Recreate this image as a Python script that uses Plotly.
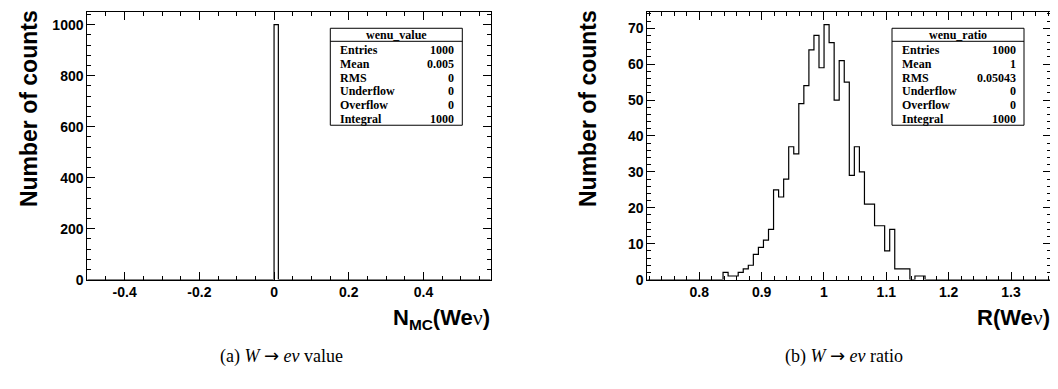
import plotly.graph_objects as go

W, H = 1058, 389

# ---------------- data ----------------
# (a) W -> e nu value : one filled bin
value_edges = [-0.5, 0.0, 0.0115, 0.58]
value_counts = [0, 1000, 0]
value_stats = [("Entries", "1000"), ("Mean", "0.005"), ("RMS", "0"),
               ("Underflow", "0"), ("Overflow", "0"), ("Integral", "1000")]

# (b) W -> e nu ratio : 80 bins
ratio_lo = 0.7166
ratio_width = 0.0081
ratio_counts = [0] * 15 + [
    2, 1, 1, 2, 3, 4, 7, 9, 11, 14,
    25, 23, 28, 37, 35, 49, 54, 64, 68, 59,
    71, 66, 50, 61, 55, 29, 37, 30, 21, 21,
    15, 15, 8, 14, 3, 3, 3, 0, 1, 1] + [0] * 25
ratio_stats = [("Entries", "1000"), ("Mean", "1"), ("RMS", "0.05043"),
               ("Underflow", "0"), ("Overflow", "0"), ("Integral", "1000")]

ratio_edges = [ratio_lo + i * ratio_width for i in range(len(ratio_counts) + 1)]


def px(x):
    return x / W


def py(y):
    return 1 - y / H


fig = go.Figure()

fig.add_trace(go.Scatter(x=value_edges, y=value_counts + [value_counts[-1]],
                         mode="lines", line=dict(shape="hv", color="black", width=1.2),
                         xaxis="x", yaxis="y", showlegend=False, hoverinfo="skip"))
fig.add_trace(go.Scatter(x=ratio_edges, y=ratio_counts + [ratio_counts[-1]],
                         mode="lines", line=dict(shape="hv", color="black", width=1.2),
                         xaxis="x2", yaxis="y2", showlegend=False, hoverinfo="skip"))

tickfont = dict(family="Liberation Sans, Arial, sans-serif", size=14, color="black", weight="bold")
common = dict(showline=True, linecolor="black", linewidth=1, mirror="allticks",
              ticks="inside", ticklen=8, tickwidth=1, tickcolor="black",
              showgrid=False, zeroline=False, tickfont=tickfont, fixedrange=True)

ydom = [py(277.3), py(4)]
fig.update_layout(
    width=W, height=H,
    margin=dict(l=0, r=0, t=0, b=0),
    paper_bgcolor="white", plot_bgcolor="white",
    xaxis=dict(domain=[px(79.3), px(482.7)], range=[-0.5, 0.58], anchor="y",
               tickvals=[-0.4, -0.2, 0, 0.2, 0.4], ticktext=["-0.4", "-0.2", "0", "0.2", "0.4"],
               minor=dict(dtick=0.05, tick0=0, ticks="inside", ticklen=4, tickcolor="black"),
               **common),
    yaxis=dict(domain=ydom, range=[0, 1050], anchor="x", dtick=200,
               minor=dict(dtick=40, tick0=0, ticks="inside", ticklen=4, tickcolor="black"),
               **common),
    xaxis2=dict(domain=[px(639.3), px(1043.3)], range=[0.7166, 1.3646], anchor="y2",
                tickvals=[0.8, 0.9, 1.0, 1.1, 1.2, 1.3], ticktext=["0.8", "0.9", "1", "1.1", "1.2", "1.3"],
                minor=dict(dtick=0.02, tick0=0, ticks="inside", ticklen=4, tickcolor="black"),
                **common),
    yaxis2=dict(domain=ydom, range=[0, 74.55], anchor="x2", dtick=10,
                minor=dict(dtick=2, tick0=0, ticks="inside", ticklen=4, tickcolor="black"),
                **common),
)

shapes = []
annotations = []
stat_font = dict(family="Liberation Serif, Times New Roman, serif", size=12, color="black", weight="bold")


def stats_box(x0, title, rows):
    x1 = x0 + 132
    y0, y1 = 20.7, 119.7
    shapes.append(dict(type="rect", xref="paper", yref="paper", x0=px(x0), x1=px(x1),
                       y0=py(y1), y1=py(y0), line=dict(color="black", width=1),
                       fillcolor="white", layer="above"))
    shapes.append(dict(type="line", xref="paper", yref="paper", x0=px(x0), x1=px(x1),
                       y0=py(34), y1=py(34), line=dict(color="black", width=1), layer="above"))
    annotations.append(dict(x=px((x0 + x1) / 2), y=py(27.3), xref="paper", yref="paper",
                            text=title, showarrow=False, xanchor="center", yanchor="middle",
                            font=stat_font))
    for i, (lab, val) in enumerate(rows):
        yc = 43 + 14 * i
        annotations.append(dict(x=px(x0 + 7.5), y=py(yc), xref="paper", yref="paper", text=lab,
                                showarrow=False, xanchor="left", yanchor="middle", font=stat_font))
        annotations.append(dict(x=px(x1 - 6), y=py(yc), xref="paper", yref="paper", text=val,
                                showarrow=False, xanchor="right", yanchor="middle", font=stat_font))


stats_box(322.3, "wenu_value", value_stats)
stats_box(884.0, "wenu_ratio", ratio_stats)

title_font = dict(family="Liberation Sans, Arial, sans-serif", size=22, color="black", weight="bold")
ytitle_font = dict(family="Liberation Sans, Arial, sans-serif", size=23, color="black", weight="bold")

NU = "<span style=\"font-family:'Liberation Serif', serif;font-weight:normal\">\u03bd</span>"
ARROW = "<span style=\"font-family:'DejaVu Sans', sans-serif\">\u2192</span>"

# y titles
for xc in (20.6, 579.5):
    annotations.append(dict(x=px(xc), y=py(0), xref="paper", yref="paper", text="Number of counts",
                            textangle=-90, showarrow=False, xanchor="center", yanchor="top",
                            font=ytitle_font))
# x titles
annotations.append(dict(x=px(483.5), y=py(301), xref="paper", yref="paper",
                        text="N<sub>MC</sub>(We" + NU + ")", showarrow=False, xanchor="right",
                        yanchor="top", font=title_font))
annotations.append(dict(x=px(1044), y=py(301), xref="paper", yref="paper",
                        text="R(We" + NU + ")", showarrow=False, xanchor="right",
                        yanchor="top", font=title_font))

cap_font = dict(family="Liberation Serif, Times New Roman, serif", size=18, color="black")
annotations.append(dict(x=px(273), y=py(355), xref="paper", yref="paper",
                        text="(a) <i>W</i> " + ARROW + " <i>e\u03bd</i> value", showarrow=False,
                        xanchor="center", yanchor="middle", font=cap_font))
annotations.append(dict(x=px(836), y=py(355), xref="paper", yref="paper",
                        text="(b) <i>W</i> " + ARROW + " <i>e\u03bd</i> ratio", showarrow=False,
                        xanchor="center", yanchor="middle", font=cap_font))

fig.update_layout(shapes=shapes, annotations=annotations)

fig.write_html("out.html")
